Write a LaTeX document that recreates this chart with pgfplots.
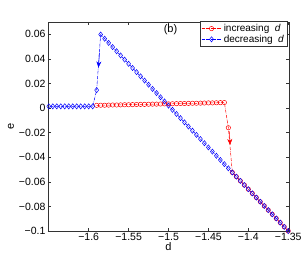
\documentclass[border=0pt]{standalone}
\usepackage{fontspec}
\setmainfont{Liberation Sans}
\usepackage{pgfplots}
\pgfplotsset{compat=1.18}
\usetikzlibrary{arrows.meta,calc}

\pgfplotstableread{
d e
-1.590 0.0022
-1.585 0.0023
-1.580 0.0023
-1.575 0.0024
-1.570 0.0025
-1.565 0.0025
-1.560 0.0026
-1.555 0.0027
-1.550 0.0027
-1.545 0.0028
-1.540 0.0029
-1.535 0.0030
-1.530 0.0030
-1.525 0.0031
-1.520 0.0032
-1.515 0.0032
-1.510 0.0033
-1.505 0.0034
-1.500 0.0034
-1.495 0.0035
-1.490 0.0036
-1.485 0.0037
-1.480 0.0037
-1.475 0.0038
-1.470 0.0039
-1.465 0.0039
-1.460 0.0040
-1.455 0.0041
-1.450 0.0042
-1.445 0.0042
-1.440 0.0043
-1.435 0.0044
-1.430 0.0045
-1.425 -0.0160
-1.420 -0.0524
-1.415 -0.0558
-1.410 -0.0592
-1.405 -0.0626
-1.400 -0.0660
-1.395 -0.0694
-1.390 -0.0728
-1.385 -0.0762
-1.380 -0.0796
-1.375 -0.0830
-1.370 -0.0864
-1.365 -0.0898
-1.360 -0.0932
-1.355 -0.0966
-1.350 -0.1000
}\increasing

\pgfplotstableread{
d e
-1.350 -0.1000
-1.355 -0.0966
-1.360 -0.0932
-1.365 -0.0898
-1.370 -0.0864
-1.375 -0.0830
-1.380 -0.0796
-1.385 -0.0762
-1.390 -0.0728
-1.395 -0.0694
-1.400 -0.0660
-1.405 -0.0626
-1.410 -0.0592
-1.415 -0.0558
-1.420 -0.0524
-1.425 -0.0490
-1.430 -0.0456
-1.435 -0.0422
-1.440 -0.0388
-1.445 -0.0354
-1.450 -0.0320
-1.455 -0.0286
-1.460 -0.0252
-1.465 -0.0218
-1.470 -0.0184
-1.475 -0.0150
-1.480 -0.0116
-1.485 -0.0082
-1.490 -0.0048
-1.495 -0.0014
-1.500 0.0020
-1.505 0.0054
-1.510 0.0088
-1.515 0.0122
-1.520 0.0156
-1.525 0.0190
-1.530 0.0224
-1.535 0.0258
-1.540 0.0292
-1.545 0.0326
-1.550 0.0360
-1.555 0.0394
-1.560 0.0428
-1.565 0.0462
-1.570 0.0496
-1.575 0.0530
-1.580 0.0564
-1.585 0.0598
-1.590 0.0146
-1.595 0.0014
-1.600 0.0014
-1.605 0.0014
-1.610 0.0014
-1.615 0.0014
-1.620 0.0014
-1.625 0.0014
-1.630 0.0014
-1.635 0.0014
-1.640 0.0014
-1.645 0.0014
-1.650 0.0014
}\decreasing

\begin{document}
\begin{tikzpicture}
\begin{axis}[
  scale only axis,
  width=241pt, height=209pt,
  xmin=-1.651, xmax=-1.349,
  ymin=-0.1, ymax=0.07,
  xtick={-1.6,-1.55,-1.5,-1.45,-1.4,-1.35},
  xticklabels={−1.6,−1.55,−1.5,−1.45,−1.4,−1.35},
  ytick={-0.1,-0.08,-0.06,-0.04,-0.02,0,0.02,0.04,0.06},
  yticklabels={−0.1,−0.08,−0.06,−0.04,−0.02,0,0.02,0.04,0.06},
  tick align=inside,
  major tick length=3pt,
  axis line style={gray!40!black},
  every tick/.style={gray!40!black},
  tick label style={font=\fontsize{10.5}{12}\selectfont},
  xticklabel style={yshift=1pt},
  yticklabel style={xshift=1pt},
  label style={font=\fontsize{11}{12}\selectfont},
  xlabel={d}, ylabel={e},
  xlabel style={yshift=5pt},
  ylabel style={yshift=-2pt},
  legend style={at={(rel axis cs:0.993,1.005)}, anchor=north east,
    font=\fontsize{10}{11}\selectfont, draw=black!80, line width=0.5pt,
    inner sep=1pt, row sep=-2pt},
  legend image code/.code={
    \draw[mark repeat=2,mark phase=2] plot coordinates {(0cm,0cm) (0.35cm,0cm) (0.7cm,0cm)};},
  legend cell align=left,
]
\addplot[red, densely dashdotted, line width=0.5pt, mark=o, mark size=2.2pt,
  mark options={solid}] table[x=d,y=e] {\increasing};
\addlegendentry{increasing \ \textit{d}}
\addplot[blue, densely dashdotted, line width=0.5pt, mark=diamond, mark size=2.6pt,
  mark options={solid}] table[x=d,y=e] {\decreasing};
\addlegendentry{decreasing \ \textit{d}}
\addplot[blue, line width=0.5pt, -{Stealth[length=6pt,width=5pt]}, forget plot]
  coordinates {(-1.5866,0.045) (-1.5877,0.033)};
\addplot[red, line width=0.5pt, -{Stealth[length=6pt,width=5pt]}, forget plot]
  coordinates {(-1.4237,-0.019) (-1.4228,-0.030)};
\node[font=\fontsize{11}{12}\selectfont] at (axis cs:-1.4975,0.064) {(b)};
\end{axis}
\pgfresetboundingbox
\path (current axis.south west) ++(-48pt,-28pt) coordinate (A);
\path (current axis.north east) ++(13pt,22pt) coordinate (B);
\useasboundingbox (A) rectangle (B);
\end{tikzpicture}
\end{document}
